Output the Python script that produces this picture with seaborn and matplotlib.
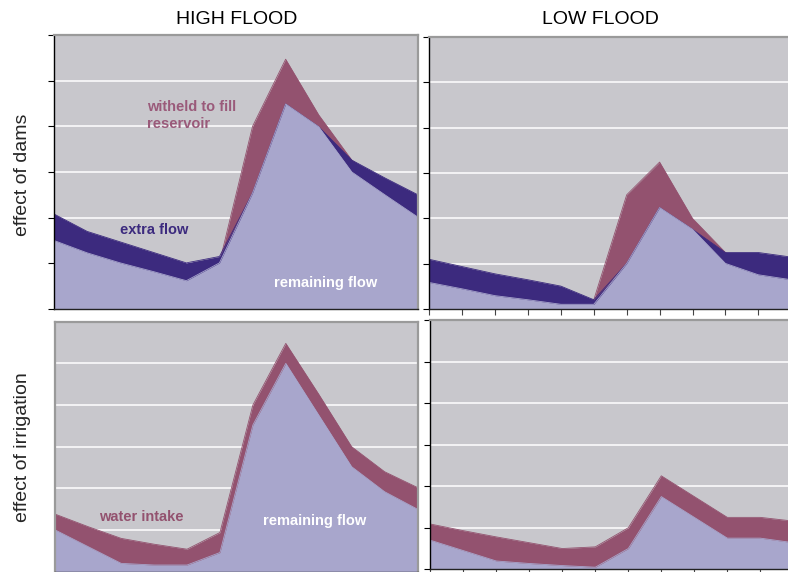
import matplotlib
matplotlib.use("Agg")
import matplotlib.pyplot as plt
import numpy as np
import pandas as pd
import seaborn as sns

# Months along the river year (positions only, no labels shown)
months = list(range(12))

# Effect of dams - high flood year
dams_high_natural = [1.45, 1.15, 0.95, 0.78, 0.60, 1.01, 4.00, 5.47, 4.25, 3.26, 2.70, 2.20]
dams_high_regulated = [2.08, 1.70, 1.47, 1.24, 1.01, 1.15, 2.54, 4.49, 3.99, 3.26, 2.87, 2.50]
dams_high_remaining = [1.50, 1.23, 1.01, 0.82, 0.62, 1.01, 2.54, 4.49, 3.99, 3.00, 2.50, 2.01]

# Effect of dams - low flood year
dams_low_natural = [0.59, 0.45, 0.30, 0.21, 0.11, 0.21, 2.52, 3.24, 2.00, 1.25, 0.90, 0.80]
dams_low_regulated = [1.10, 0.94, 0.78, 0.65, 0.51, 0.21, 1.01, 2.24, 1.76, 1.25, 1.25, 1.15]
dams_low_remaining = [0.59, 0.45, 0.30, 0.21, 0.11, 0.11, 1.01, 2.24, 1.76, 1.01, 0.76, 0.65]

# Effect of irrigation
irr_high_natural = [1.38, 1.08, 0.80, 0.66, 0.54, 0.94, 4.00, 5.48, 4.26, 3.00, 2.40, 2.02]
irr_high_remaining = [1.00, 0.60, 0.20, 0.16, 0.16, 0.46, 3.52, 5.00, 3.76, 2.52, 1.92, 1.50]
irr_low_natural = [1.09, 0.93, 0.78, 0.64, 0.50, 0.54, 1.00, 2.25, 1.75, 1.25, 1.25, 1.16]
irr_low_remaining = [0.70, 0.45, 0.20, 0.14, 0.09, 0.05, 0.50, 1.75, 1.25, 0.75, 0.75, 0.64]

col_titles = ["HIGH FLOOD", "LOW FLOOD"]
row_titles = ["effect of dams", "effect of irrigation"]

bg = "#c8c7cc"
light = "#a8a6cc"
dark = "#3c2a7e"
maroon = "#93526f"
frame = "#9a9a9a"

sns.set_theme(style="white")
plt.rcParams["font.family"] = ["Liberation Sans", "DejaVu Sans"]

fig = plt.figure(figsize=(7.88, 5.72), dpi=100)

# axes placed in pixel terms of the 788x572 canvas
def add_panel(left, right, top, bottom):
    return fig.add_axes([left / 788, 1 - bottom / 572, (right - left) / 788, (bottom - top) / 572])

ax_tl = add_panel(54, 418, 35, 309)
ax_tr = add_panel(429.3, 791.2, 36.7, 309.3)
ax_bl = add_panel(55.3, 417.5, 321.7, 571.7)
ax_br = add_panel(430.3, 793.3, 320, 569.3)


def draw_layer(ax, values, color):
    df = pd.DataFrame({"month": months, "flow": values})
    ax.fill_between(df["month"], 0, df["flow"], color=color, lw=0, zorder=2)
    sns.lineplot(data=df, x="month", y="flow", ax=ax, color=color, lw=0.6, zorder=2)


def style_panel(ax, left_ticks, bottom_ticks, left_color):
    ax.set_facecolor(bg)
    ax.set_xlim(0, 11)
    ax.set_ylim(0, 6)
    ax.set_yticks(range(7))
    ax.set_xticks(months)
    ax.set_xticklabels([])
    ax.set_yticklabels([])
    ax.set_xlabel("")
    ax.set_ylabel("")
    for y in range(1, 6):
        ax.axhline(y, color="white", lw=1.1, zorder=1)
    ax.tick_params(axis="y", left=left_ticks, length=4, width=0.8, color="black", direction="out")
    ax.tick_params(axis="x", bottom=bottom_ticks, length=4, width=0.8, color="#444444", direction="out")
    for side in ["top", "right"]:
        ax.spines[side].set_color(frame)
        ax.spines[side].set_linewidth(1.6)
    ax.spines["left"].set_color(left_color)
    ax.spines["left"].set_linewidth(1.6 if left_color == frame else 1.0)
    ax.spines["bottom"].set_color("#222222")
    ax.spines["bottom"].set_linewidth(1.0)
    for s in ax.spines.values():
        s.set_zorder(5)


# dams: natural (maroon) behind, regulated (dark) in the middle, remaining in front
draw_layer(ax_tl, dams_high_natural, maroon)
draw_layer(ax_tl, dams_high_regulated, dark)
draw_layer(ax_tl, dams_high_remaining, light)
draw_layer(ax_tr, dams_low_natural, maroon)
draw_layer(ax_tr, dams_low_regulated, dark)
draw_layer(ax_tr, dams_low_remaining, light)

# irrigation: natural (maroon) behind, remaining in front
draw_layer(ax_bl, irr_high_natural, maroon)
draw_layer(ax_bl, irr_high_remaining, light)
draw_layer(ax_br, irr_low_natural, maroon)
draw_layer(ax_br, irr_low_remaining, light)

style_panel(ax_tl, True, False, "black")
style_panel(ax_tr, True, True, "black")
style_panel(ax_bl, False, True, frame)
style_panel(ax_br, True, True, "black")

# column and row headings
fig.text(237 / 788, 1 - 20 / 572, col_titles[0], ha="center", va="center", fontsize=14, color="black")
fig.text(600 / 788, 1 - 20 / 572, col_titles[1], ha="center", va="center", fontsize=14, color="black")
fig.text(23 / 788, 1 - 175 / 572, row_titles[0], ha="center", va="center", rotation=90, fontsize=14)
fig.text(23 / 788, 1 - 447 / 572, row_titles[1], ha="center", va="center", rotation=90, fontsize=14)

# in-panel labels
ax_tl.text(2.82, 4.23, "witheld to fill\nreservoir", color="#9a5a7a", fontsize=10.5,
           fontweight="bold", ha="left", va="center", linespacing=1.3, zorder=6)
ax_tl.text(3.03, 1.73, "extra flow", color=dark, fontsize=10.5, fontweight="bold",
           ha="center", va="center", zorder=6)
ax_tl.text(8.2, 0.57, "remaining flow", color="white", fontsize=10.5, fontweight="bold",
           ha="center", va="center", zorder=6)
ax_bl.text(2.6, 1.32, "water intake", color=maroon, fontsize=10.5, fontweight="bold",
           ha="center", va="center", zorder=6)
ax_bl.text(7.87, 1.22, "remaining flow", color="white", fontsize=10.5, fontweight="bold",
           ha="center", va="center", zorder=6)

fig.savefig("out.png", dpi=100, facecolor="white")
